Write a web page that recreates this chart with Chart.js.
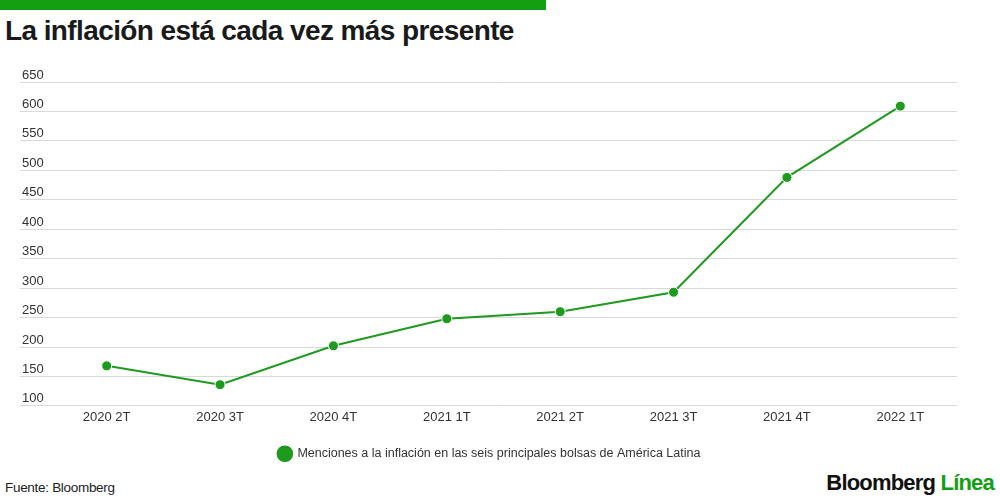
<!DOCTYPE html>
<html lang="es">
<head>
<meta charset="utf-8">
<title>La inflación está cada vez más presente</title>
<script src="https://cdn.jsdelivr.net/npm/chart.js@4.4.0/dist/chart.umd.min.js"></script>
<style>
  html, body { margin: 0; padding: 0; background: #fff; }
  body { width: 1000px; height: 500px; position: relative; overflow: hidden; font-family: "Liberation Sans", Arial, sans-serif; }
  .topbar { position: absolute; left: 0; top: 0; width: 546px; height: 10px; background: #12a012; }
  h1 { position: absolute; left: 5px; top: 15px; margin: 0; font-size: 28px; font-weight: bold; color: #1a1a1a; letter-spacing: -0.6px; }
  .chart-wrap { position: absolute; left: 0; top: 60px; width: 1000px; height: 410px; }
  .source { position: absolute; left: 5px; top: 480px; font-size: 13.5px; color: #222; letter-spacing: -0.3px; }
  .logo { position: absolute; right: 6px; top: 470px; font-size: 22px; font-weight: bold; color: #111; letter-spacing: -0.8px; }
  .logo span { color: #12a012; }
</style>
</head>
<body>
<div class="topbar"></div>
<h1>La inflación está cada vez más presente</h1>
<div class="chart-wrap"><canvas id="chart"></canvas></div>
<div class="source">Fuente: Bloomberg</div>
<div class="logo">Bloomberg <span>Línea</span></div>
<script>
  // trimestres y menciones
  const quarters = ["2020 2T", "2020 3T", "2020 4T", "2021 1T", "2021 2T", "2021 3T", "2021 4T", "2022 1T"];
  const mentions = [168, 136, 202, 248, 260, 293, 488, 609];
  const seriesLabel = "Menciones a la inflación en las seis principales bolsas de América Latina";

  const green = "#1e9a1e";

  const ctx = document.getElementById("chart").getContext("2d");
  new Chart(ctx, {
    type: "line",
    data: {
      labels: quarters,
      datasets: [
        {
          label: seriesLabel,
          data: mentions,
          borderColor: green,
          backgroundColor: green,
          borderWidth: 2,
          pointRadius: 5,
          pointBorderColor: "#fff",
          pointBorderWidth: 1,
          pointBackgroundColor: green,
          tension: 0,
        },
      ],
    },
    options: {
      responsive: true,
      maintainAspectRatio: false,
      animation: false,
      layout: { padding: { left: 22, right: 43, top: 22, bottom: 0 } },
      scales: {
        x: {
          type: "category",
          offset: true,
          grid: { display: false, drawTicks: false },
          border: { display: false },
          ticks: {
            color: "#333",
            padding: 4,
            font: { family: "Liberation Sans", size: 13 },
            maxRotation: 0,
          },
        },
        y: {
          min: 100,
          max: 650,
          afterFit: (scale) => {
            scale.width = 28;
          },
          border: { display: false },
          grid: { color: "#d9d9d9", lineWidth: 1, drawTicks: true, tickLength: 30 },
          ticks: {
            stepSize: 50,
            color: "#333",
            crossAlign: "far",
            labelOffset: -7,
            padding: 0,
            font: { family: "Liberation Sans", size: 13 },
          },
        },
      },
      plugins: {
        legend: {
          position: "bottom",
          labels: {
            usePointStyle: true,
            pointStyle: "circle",
            color: "#333",
            padding: 18,
            font: { family: "Liberation Sans", size: 12.5 },
          },
        },
        tooltip: { enabled: false },
      },
    },
  });
</script>
</body>
</html>
